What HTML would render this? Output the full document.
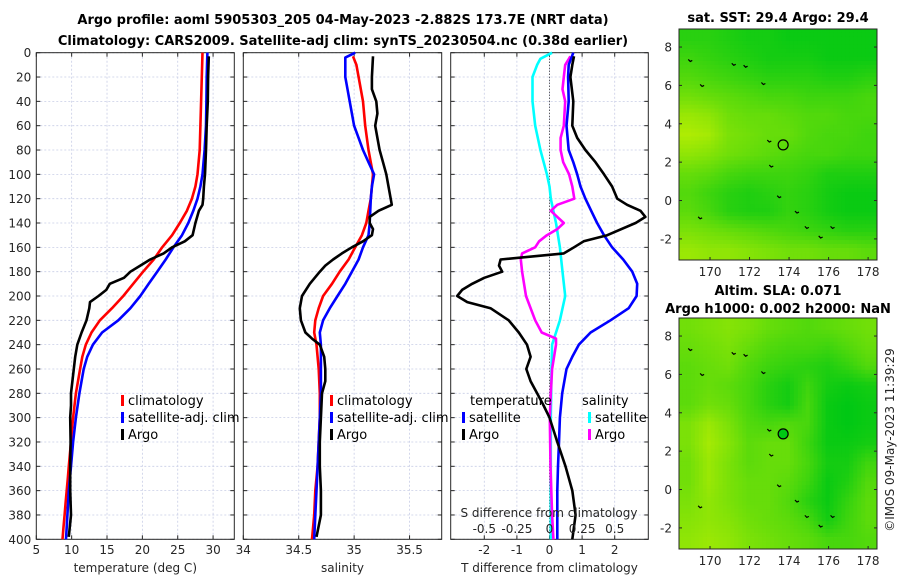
<!DOCTYPE html>
<html><head><meta charset="utf-8"><style>
body{margin:0;background:#fff;}
svg{display:block;font-family:"DejaVu Sans","Liberation Sans",sans-serif;}
.tk{font-size:12px;fill:#262626;}
.ttl{font-size:13px;font-weight:bold;fill:#000;}
.lg{font-size:13px;fill:#000;}
</style></head><body>
<svg id="c" width="900" height="580" viewBox="0 0 900 580">
<rect width="900" height="580" fill="#fff"/>
<text class="ttl" x="343" y="24" text-anchor="middle">Argo profile: aoml 5905303_205 04-May-2023 -2.882S 173.7E (NRT data)</text>
<text class="ttl" x="343" y="45" text-anchor="middle">Climatology: CARS2009. Satellite-adj clim: synTS_20230504.nc (0.38d earlier)</text>
<text class="ttl" x="778" y="22" text-anchor="middle">sat. SST: 29.4 Argo: 29.4</text>
<text class="ttl" x="778" y="295" text-anchor="middle">Altim. SLA: 0.071</text>
<text class="ttl" x="778" y="313" text-anchor="middle">Argo h1000: 0.002 h2000: NaN</text>
<text class="tk" transform="translate(894,440) rotate(-90)" text-anchor="middle">©IMOS 09-May-2023 11:39:29</text>
<g id="plots"></g>
</svg>
<script>
// ---- data ----
const depthTicks=[0,20,40,60,80,100,120,140,160,180,200,220,240,260,280,300,320,340,360,380,400];
const tempTicks=[5,10,15,20,25,30];
const salTicks=[34,34.5,35,35.5];
const tdiffTicks=[-2,-1,0,1,2];
const sdiffTicks=[-0.5,-0.25,0,0.25,0.5];
const sdiffTickLabels=["-0.5","-0.25","0","0.25","0.5"];

const climTDepth=[0,20,40,60,80,100,110,120,130,140,150,160,170,180,190,200,210,220,230,240,250,260,270,280,290,300,310,320,330,340,350,360,370,380,390,400];
const climT=[28.5,28.4,28.3,28.2,28.1,27.8,27.5,27.0,26.3,25.3,24.2,22.8,21.6,20.1,18.7,17.3,15.7,14.0,12.8,12.0,11.5,11.2,10.9,10.6,10.4,10.2,10.05,9.9,9.75,9.6,9.45,9.3,9.15,9.0,8.85,8.7];
const satTDepth=[0,20,40,60,80,100,110,120,130,140,150,160,170,180,190,200,210,220,230,240,250,260,280,300,320,340,360,380,400];
const satT=[29.2,29.1,29.05,29.0,28.8,28.5,28.2,27.8,27.2,26.5,25.6,24.4,23.3,22.1,20.9,19.7,18.3,16.6,14.3,13.0,12.2,11.7,11.1,10.6,10.2,9.9,9.6,9.4,9.2];
const argoTDepth=[3,20,40,60,80,100,110,120,125,130,140,150,155,160,165,170,175,180,185,190,195,200,205,210,220,230,240,250,260,270,280,290,300,320,340,360,380,398];
const argoT=[29.4,29.3,29.25,29.1,29.0,28.85,28.7,28.6,28.5,28.0,27.5,27.1,26.0,24.2,23.0,21.1,19.7,18.3,17.4,15.4,14.9,13.8,12.6,12.5,12.1,11.4,10.8,10.5,10.3,10.1,9.9,9.9,9.8,9.85,9.8,9.8,9.9,9.6];

const climSDepth=[3,10,20,40,60,80,100,110,120,130,140,150,160,170,180,190,200,210,220,230,240,260,280,300,320,340,360,380,400];
const climS=[34.99,35.02,35.04,35.08,35.10,35.13,35.17,35.16,35.15,35.13,35.11,35.07,35.01,34.95,34.87,34.80,34.72,34.68,34.65,34.64,34.66,34.68,34.69,34.69,34.68,34.67,34.65,34.64,34.62];
const satSDepth=[0,4,10,20,30,40,50,60,70,80,90,100,110,120,140,150,160,170,180,190,200,210,220,230,240,260,280,300,320,340,360,380,400];
const satS=[35.01,34.92,34.92,34.92,34.94,34.96,34.98,35.0,35.04,35.08,35.13,35.18,35.16,35.15,35.14,35.13,35.08,35.04,34.98,34.92,34.85,34.78,34.72,34.69,34.70,34.70,34.70,34.69,34.68,34.67,34.66,34.65,34.64];
const argoSDepth=[3,20,30,40,50,60,70,80,90,100,110,120,125,130,135,140,145,150,155,160,165,170,175,180,190,200,210,220,230,235,240,250,260,270,280,300,320,340,360,380,398];
const argoS=[35.17,35.16,35.16,35.20,35.21,35.19,35.21,35.23,35.26,35.29,35.31,35.33,35.34,35.22,35.14,35.14,35.17,35.16,35.08,34.98,34.89,34.81,34.74,34.69,34.60,34.53,34.51,34.52,34.56,34.62,34.69,34.73,34.74,34.74,34.71,34.70,34.69,34.69,34.70,34.70,34.66];

const tSatDiffDepth=[0,10,20,40,60,80,90,100,110,120,130,140,150,160,170,180,190,200,210,220,230,240,250,260,280,300,320,340,360,380,400];
const tSatDiff=[0.73,0.59,0.57,0.59,0.52,0.59,0.73,0.85,0.95,1.1,1.28,1.46,1.67,1.92,2.26,2.54,2.69,2.67,2.43,1.87,1.26,0.90,0.70,0.52,0.39,0.32,0.29,0.26,0.24,0.24,0.24];
const tArgoDiffDepth=[3,10,20,40,60,70,80,90,100,110,120,125,130,135,140,150,155,160,165,170,175,180,185,190,195,200,205,210,220,230,240,250,260,270,280,290,300,320,340,360,380,400];
const tArgoDiff=[0.75,0.70,0.64,0.73,0.70,0.85,1.1,1.41,1.67,1.92,2.08,2.38,2.79,2.94,2.64,1.77,1.05,0.75,0.44,-1.5,-1.55,-1.45,-2.0,-2.37,-2.68,-2.83,-2.52,-1.81,-1.25,-0.94,-0.69,-0.58,-0.71,-0.58,-0.38,-0.18,0.0,0.24,0.49,0.70,0.80,0.70];
const sSatDiffDepth=[0,5,10,20,40,60,80,100,110,120,140,160,180,200,220,230,240,260,280,300,400];
const sSatDiff=[0.02,-0.07,-0.095,-0.13,-0.13,-0.11,-0.07,-0.02,0.0,0.01,0.05,0.08,0.10,0.12,0.08,0.05,0.02,0.015,0.013,0.01,0.01];
const sArgoDiffDepth=[3,10,20,30,40,50,60,70,80,90,100,110,120,125,130,135,140,145,150,155,160,165,170,180,200,220,230,235,240,260,280,300,340,380,400];
const sArgoDiff=[0.16,0.12,0.11,0.10,0.12,0.115,0.11,0.085,0.085,0.105,0.15,0.175,0.19,0.06,0.01,0.06,0.11,0.06,-0.02,-0.08,-0.11,-0.21,-0.22,-0.21,-0.18,-0.11,-0.06,0.05,0.05,0.02,0.01,0.002,0.008,0.02,0.03];

// map grids (rows lat 8.5 -> -2.5, cols lon 169 -> 178), 0 = dark green, 1 = yellow-green
const sstGrid=[
[.2,.2,.15,.1,.1,.05,.05,.05,.05,.05],
[.3,.25,.2,.15,.1,.1,.1,.05,.05,.05],
[.4,.35,.3,.25,.2,.2,.2,.15,.15,.2],
[.55,.5,.45,.4,.35,.35,.3,.3,.3,.35],
[.75,.7,.55,.5,.5,.45,.4,.4,.35,.35],
[.85,.8,.6,.55,.5,.5,.4,.35,.35,.3],
[.7,.65,.55,.5,.45,.4,.35,.35,.3,.3],
[.5,.45,.35,.3,.3,.3,.25,.15,.15,.15],
[.4,.3,.2,.15,.2,.25,.2,.1,.05,.05],
[.45,.35,.2,.15,.15,.25,.2,.1,.05,.05],
[.6,.55,.5,.45,.4,.35,.3,.25,.2,.2],
[.75,.7,.7,.65,.6,.55,.55,.5,.5,.45]];
const slaGrid=[
[.55,.6,.65,.6,.5,.45,.4,.45,.5,.55],
[.5,.55,.6,.5,.4,.35,.35,.3,.4,.5],
[.45,.5,.55,.4,.3,.25,.2,.15,.25,.4],
[.45,.5,.45,.35,.2,.1,.3,.1,.05,.1],
[.45,.55,.5,.35,.2,.1,.35,.05,0,.05],
[.6,.75,.6,.4,.35,.4,.35,.05,0,.05],
[.6,.8,.65,.45,.5,.5,.3,.05,.05,.1],
[.55,.75,.6,.45,.5,.5,.35,.1,.1,.3],
[.55,.75,.6,.5,.5,.45,.3,.05,.15,.4],
[.6,.7,.6,.5,.5,.4,.2,.05,.25,.45],
[.65,.7,.65,.55,.5,.45,.35,.1,.3,.45],
[.7,.75,.7,.6,.55,.5,.45,.35,.35,.4]];
const lonTicks=[170,172,174,176,178];
const latTicks=[-2,0,2,4,6,8];
const argoLon=[173.7];
const argoLat=[2.9];
const islandLon=[171.2,171.8,169.6,173.0,173.1,173.5,174.4,174.9,175.6,176.2,169.0,169.5,172.7];
const islandLat=[7.1,7.0,6.0,3.1,1.8,0.2,-0.6,-1.4,-1.9,-1.4,7.3,-0.9,6.1];

// ---- drawing ----
const NS="http://www.w3.org/2000/svg";
const root=document.getElementById('plots');
function mk(tag,attrs,parent){const e=document.createElementNS(NS,tag);for(const k in attrs)e.setAttribute(k,attrs[k]);(parent||root).appendChild(e);return e;}
const Y0=52.7,Y1=539.3;
const yD=d=>Y0+d/400*(Y1-Y0);

function panel(name,x0,x1,xmin,xmax,ticks,labels,title,showY){
  const g=mk('g',{});
  
  
  const xs=v=>x0+(v-xmin)/(xmax-xmin)*(x1-x0);
  depthTicks.forEach(d=>{
    const l=mk('line',{x1:x0,x2:x1,y1:yD(d),y2:yD(d),stroke:'#c8cde6','stroke-width':0.8,'stroke-dasharray':'2,2'},g);
    
    
    mk('line',{x1:x0,x2:x0+4,y1:yD(d),y2:yD(d),stroke:'#262626'},g);
    mk('line',{x1:x1,x2:x1-4,y1:yD(d),y2:yD(d),stroke:'#262626'},g);
    if(showY){const t=mk('text',{x:x0-5,y:yD(d)+4.5,'text-anchor':'end',class:'tk'},g);t.textContent=d;
      
      }
  });
  ticks.forEach((v,i)=>{
    const X=xs(v);
    if(X>x0+1&&X<x1-1){const l=mk('line',{x1:X,x2:X,y1:Y0,y2:Y1,stroke:'#c8cde6','stroke-width':0.8,'stroke-dasharray':'2,2'},g);
      
      }
    mk('line',{x1:X,x2:X,y1:Y1,y2:Y1-4,stroke:'#262626'},g);
    mk('line',{x1:X,x2:X,y1:Y0,y2:Y0+4,stroke:'#262626'},g);
    const t=mk('text',{x:X,y:554,'text-anchor':'middle',class:'tk'},g);t.textContent=labels?labels[i]:v;
    
    
  });
  const r=mk('rect',{x:x0,y:Y0,width:x1-x0,height:Y1-Y0,fill:'none',stroke:'#262626','stroke-width':1},g);
  
  
  const tt=mk('text',{x:(x0+x1)/2,y:572,'text-anchor':'middle',class:'tk','font-size':'13'},g);tt.textContent=title;
  
  
  return {g,xs};
}
function series(p,depths,vals,color,name,xsOverride){
  const xs=xsOverride||p.xs;
  const pts=vals.map((v,i)=>xs(v).toFixed(1)+','+yD(depths[i]).toFixed(1)).join(' ');
  const pl=mk('polyline',{points:pts,fill:'none',stroke:color,'stroke-width':2.6,'stroke-linejoin':'round'},p.g);
  
  
}
function legendItem(g,x,y,color,label,name){
  mk('rect',{x:x,y:y-10,width:3,height:11,fill:color},g);
  const t=mk('text',{x:x+7,y:y,class:'lg'},g);t.textContent=label;
  
  
}

// Panel 1: temperature
const p1=panel('temperature-panel',36.3,234.3,5,33,tempTicks,null,'temperature (deg C)',true);
series(p1,climTDepth,climT,'#ff0000','climatology-temp-line');
series(p1,satTDepth,satT,'#0000ff','satellite-temp-line');
series(p1,argoTDepth,argoT,'#000000','argo-temp-line');
legendItem(p1.g,121,405,'#ff0000','climatology','legend-climatology');
legendItem(p1.g,121,422,'#0000ff','satellite-adj. clim','legend-satellite');
legendItem(p1.g,121,439,'#000000','Argo','legend-argo');

// Panel 2: salinity
const p2=panel('salinity-panel',243.3,441.7,34,35.79,salTicks,null,'salinity',false);
series(p2,climSDepth,climS,'#ff0000','climatology-salinity-line');
series(p2,satSDepth,satS,'#0000ff','satellite-salinity-line');
series(p2,argoSDepth,argoS,'#000000','argo-salinity-line');
legendItem(p2.g,330,405,'#ff0000','climatology','legend-climatology');
legendItem(p2.g,330,422,'#0000ff','satellite-adj. clim','legend-satellite');
legendItem(p2.g,330,439,'#000000','Argo','legend-argo');

// Panel 3: differences
const p3=panel('difference-panel',450.7,648.3,-3.03,3.03,tdiffTicks,null,'T difference from climatology',false);
const xsS=v=>p3.xs(v*4);
const zl=mk('line',{x1:p3.xs(0),x2:p3.xs(0),y1:Y0,y2:Y1,stroke:'#333','stroke-width':1,'stroke-dasharray':'1,2'},p3.g);


series(p3,sSatDiffDepth,sSatDiff,'#00ffff','salinity-satellite-diff-line',xsS);
series(p3,sArgoDiffDepth,sArgoDiff,'#ff00ff','salinity-argo-diff-line',xsS);
series(p3,tSatDiffDepth,tSatDiff,'#0000ff','temp-satellite-diff-line');
series(p3,tArgoDiffDepth,tArgoDiff,'#000000','temp-argo-diff-line');
{const t=mk('text',{x:470,y:405,class:'lg'},p3.g);t.textContent='temperature';
 
 
 const s=mk('text',{x:582,y:405,class:'lg'},p3.g);s.textContent='salinity';
 
 }
legendItem(p3.g,462,422,'#0000ff','satellite','legend-temp-satellite');
legendItem(p3.g,462,439,'#000000','Argo','legend-temp-argo');
legendItem(p3.g,588,422,'#00ffff','satellite','legend-sal-satellite');
legendItem(p3.g,588,439,'#ff00ff','Argo','legend-sal-argo');
{const t=mk('text',{x:549,y:517,'text-anchor':'middle',class:'tk','font-size':'13'},p3.g);t.textContent='S difference from climatology';
 
 
 sdiffTicks.forEach((v,i)=>{const q=mk('text',{x:xsS(v),y:533,'text-anchor':'middle',class:'tk'},p3.g);q.textContent=sdiffTickLabels[i];
   
   });}

// Maps
function colorOf(v){const r=Math.round(0+v*205),g=Math.round(200+v*42),b=Math.round(20-v*20);return `rgb(${r},${g},${b})`;}
function drawMap(name,grid,top,bottom,latTop,latBot,pix,circleFill){
  const x0=679,x1=877,lonL=168.43,lonR=178.45;
  const g=mk('g',{});
  
  
  const xs=lo=>x0+(lo-lonL)/(lonR-lonL)*(x1-x0);
  const ys=la=>top+(latTop-la)/(latTop-latBot)*(bottom-top);
  const R=grid.length,C=grid[0].length;
  const nx=Math.round((x1-x0)/pix),ny=Math.round((bottom-top)/pix);
  const samp=(r,c)=>grid[Math.max(0,Math.min(R-1,r))][Math.max(0,Math.min(C-1,c))];
  for(let j=0;j<ny;j++)for(let i=0;i<nx;i++){
    const fr=(j+0.5)/ny*R-0.5,fc=(i+0.5)/nx*C-0.5;
    const r0=Math.floor(fr),c0=Math.floor(fc),a=fr-r0,b=fc-c0;
    const v=samp(r0,c0)*(1-a)*(1-b)+samp(r0,c0+1)*(1-a)*b+samp(r0+1,c0)*a*(1-b)+samp(r0+1,c0+1)*a*b;
    mk('rect',{x:x0+i*(x1-x0)/nx,y:top+j*(bottom-top)/ny,width:(x1-x0)/nx+0.4,height:(bottom-top)/ny+0.4,fill:colorOf(v)},g);
  }
  islandLon.forEach((lo,k)=>{const p=mk('path',{d:`M${xs(lo)-2},${ys(islandLat[k])-1} l2,2 l2,-1`,stroke:'#000','stroke-width':1.2,fill:'none'},g);
    
    });
  argoLon.forEach((lo,k)=>{const c=mk('circle',{cx:xs(lo),cy:ys(argoLat[k]),r:5,fill:circleFill,stroke:'#000','stroke-width':1.2},g);
    
    });
  mk('rect',{x:x0,y:top,width:x1-x0,height:bottom-top,fill:'none',stroke:'#262626'},g);
  lonTicks.forEach(lo=>{mk('line',{x1:xs(lo),x2:xs(lo),y1:bottom,y2:bottom-3,stroke:'#262626'},g);
    const t=mk('text',{x:xs(lo),y:bottom+16,'text-anchor':'middle',class:'tk'},g);t.textContent=lo;
    
    });
  latTicks.forEach(la=>{mk('line',{x1:x0,x2:x0+3,y1:ys(la),y2:ys(la),stroke:'#262626'},g);
    mk('line',{x1:x1,x2:x1-3,y1:ys(la),y2:ys(la),stroke:'#262626'},g);
    const t=mk('text',{x:x0-7,y:ys(la)+4.5,'text-anchor':'end',class:'tk'},g);t.textContent=la;
    
    });
}
drawMap('sst-map',sstGrid,29,260,8.94,-3.1,4,'none');
drawMap('sla-map',slaGrid,318,549,8.94,-3.1,4,'#00c814');
</script>
</body></html>
